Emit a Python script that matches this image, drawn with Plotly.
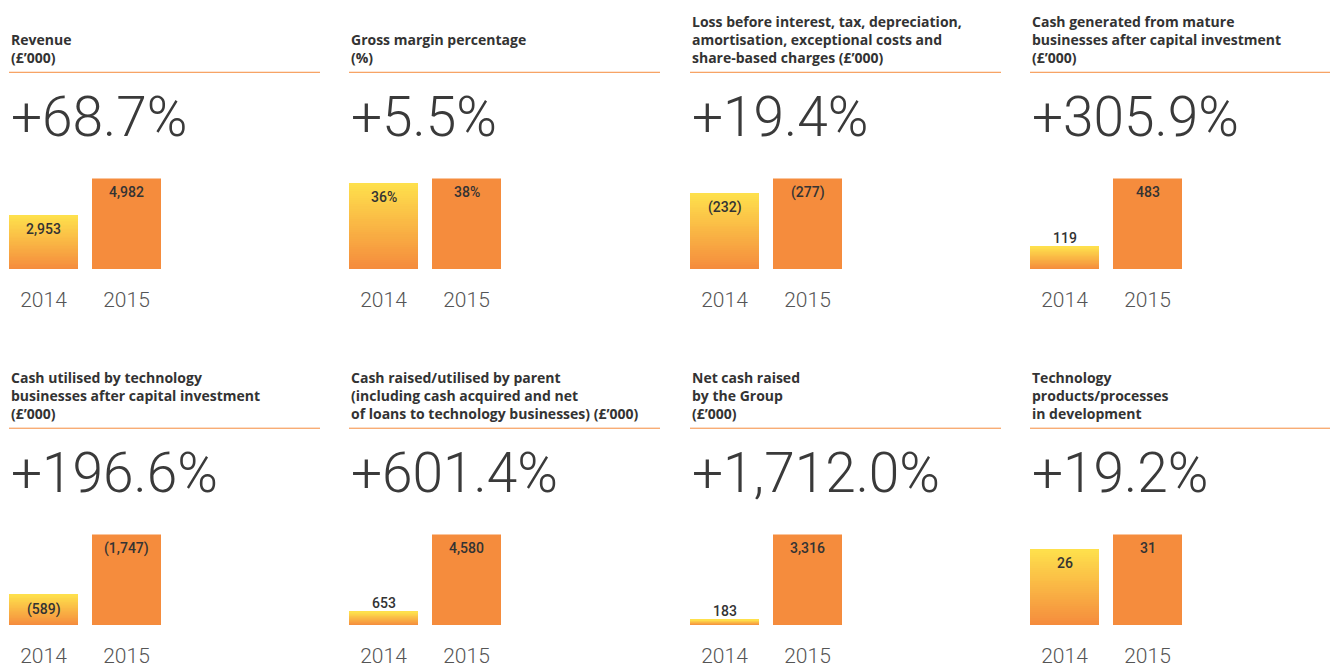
import plotly.graph_objects as go

# ---------------- data ----------------
titles = [
    "Revenue<br>(£’000)",
    "Gross margin percentage<br>(%)",
    "Loss before interest, tax, depreciation,<br>amortisation, exceptional costs and<br>share-based charges (£’000)",
    "Cash generated from mature<br>businesses after capital investment<br>(£’000)",
    "Cash utilised by technology<br>businesses after capital investment<br>(£’000)",
    "Cash raised/utilised by parent<br>(including cash acquired and net<br>of loans to technology businesses) (£’000)",
    "Net cash raised<br>by the Group<br>(£’000)",
    "Technology<br>products/processes<br>in development",
]
changes = ["+68.7%", "+5.5%", "+19.4%", "+305.9%", "+196.6%", "+601.4%", "+1,712.0%", "+19.2%"]
years = ["2014", "2015"]
values_2014 = [2953, 36, -232, 119, -589, 653, 183, 26]
values_2015 = [4982, 38, -277, 483, -1747, 4580, 3316, 31]
suffixes = ["", "%", "", "", "", "", "", ""]

# ---------------- style / layout ----------------
W, H = 1330, 668
panel_left = [9, 349, 690, 1030]
row_offset = [0, 357]
bar_bottom = 270
bar_full = 91
rule_y = 72.5
pct_y = 117
unit_px = 83.0
bar_px = 69.0
ORANGE = "#F58C3D"
YELLOW = (254, 224, 76)
ORG = (245, 140, 61)
TEXT = "#333333"
N_SEG = 40


def fmt(v, suf):
    s = f"{abs(v):,}{suf}"
    return f"({s})" if v < 0 else s


def px_x(p):
    return p / W


def px_y(p):
    return (H - p) / H


fig = go.Figure()
shapes = []
annotations = []
layout_axes = {}

w = bar_px / unit_px
for k in range(8):
    r, c = divmod(k, 4)
    left = panel_left[c]
    off = row_offset[r]
    idx = "" if k == 0 else str(k + 1)
    xa, ya = "x" + idx, "y" + idx
    v14, v15 = values_2014[k], values_2015[k]
    a14, a15 = abs(v14), abs(v15)
    vmax = max(a14, a15)

    x0 = left
    x1 = left + unit_px + bar_px
    yb = bar_bottom + off
    yt = yb - bar_full
    layout_axes["xaxis" + idx] = dict(
        domain=[px_x(x0), px_x(x1)], range=[-w / 2, 1 + w / 2], anchor=ya,
        tickvals=[0, 1], ticktext=years, showgrid=False, zeroline=False,
        showline=False, ticks="", ticklabelstandoff=16,
        tickfont=dict(family="Roboto", size=21, color="#555555", weight=300),
        fixedrange=True,
    )
    layout_axes["yaxis" + idx] = dict(
        domain=[px_y(yb), px_y(yt)], range=[0, vmax], anchor=xa,
        showgrid=False, zeroline=False, showline=False, showticklabels=False,
        ticks="", fixedrange=True,
    )

    # 2014 bar with vertical gradient (stacked slices of the same value)
    seg = a14 / N_SEG
    for i in range(N_SEG):
        t = i / (N_SEG - 1)
        col = tuple(round(ORG[j] + (YELLOW[j] - ORG[j]) * t) for j in range(3))
        fig.add_trace(go.Bar(
            x=[0], y=[seg * 1.02], base=[seg * i], width=w,
            marker=dict(color="rgb(%d,%d,%d)" % col, line=dict(width=0)),
            xaxis=xa, yaxis=ya, showlegend=False, hoverinfo="skip",
        ))
    # 2015 bar
    fig.add_trace(go.Bar(
        x=[1], y=[a15], width=w,
        marker=dict(color=ORANGE, line=dict(width=0)),
        xaxis=xa, yaxis=ya, showlegend=False, hoverinfo="skip",
    ))

    # value labels
    for xi, v in ((0, v14), (1, v15)):
        inside = abs(v) / vmax >= 0.3
        annotations.append(dict(
            x=xi, y=abs(v), xref=xa, yref=ya, text=fmt(v, suffixes[k]),
            showarrow=False, xanchor="center",
            yanchor="top" if inside else "bottom",
            yshift=-4 if inside else -1,
            font=dict(family="Roboto", size=14, color=TEXT, weight=500),
        ))

    # title
    annotations.append(dict(
        x=px_x(left), y=px_y(rule_y + off - 3), xref="paper", yref="paper",
        text=titles[k], showarrow=False, xanchor="left", yanchor="bottom",
        align="left",
        font=dict(family="Open Sans", size=14, color=TEXT, weight="bold"),
    ))
    # big change figure
    annotations.append(dict(
        x=px_x(left), y=px_y(pct_y + off), xref="paper", yref="paper",
        text=changes[k], showarrow=False, xanchor="left", yanchor="middle",
        font=dict(family="Roboto", size=55, color="#3a3a3a", weight=300),
    ))
    # orange rule
    shapes.append(dict(
        type="line", xref="paper", yref="paper",
        x0=px_x(left), x1=px_x(min(left + 311, W)),
        y0=px_y(rule_y + off), y1=px_y(rule_y + off),
        line=dict(color=ORANGE, width=1),
    ))

fig.update_layout(
    width=W, height=H, margin=dict(l=0, r=0, t=0, b=0),
    paper_bgcolor="white", plot_bgcolor="rgba(0,0,0,0)",
    barmode="overlay", bargap=0, showlegend=False,
    shapes=shapes, annotations=annotations, **layout_axes,
)

fig.write_html("out.html")
